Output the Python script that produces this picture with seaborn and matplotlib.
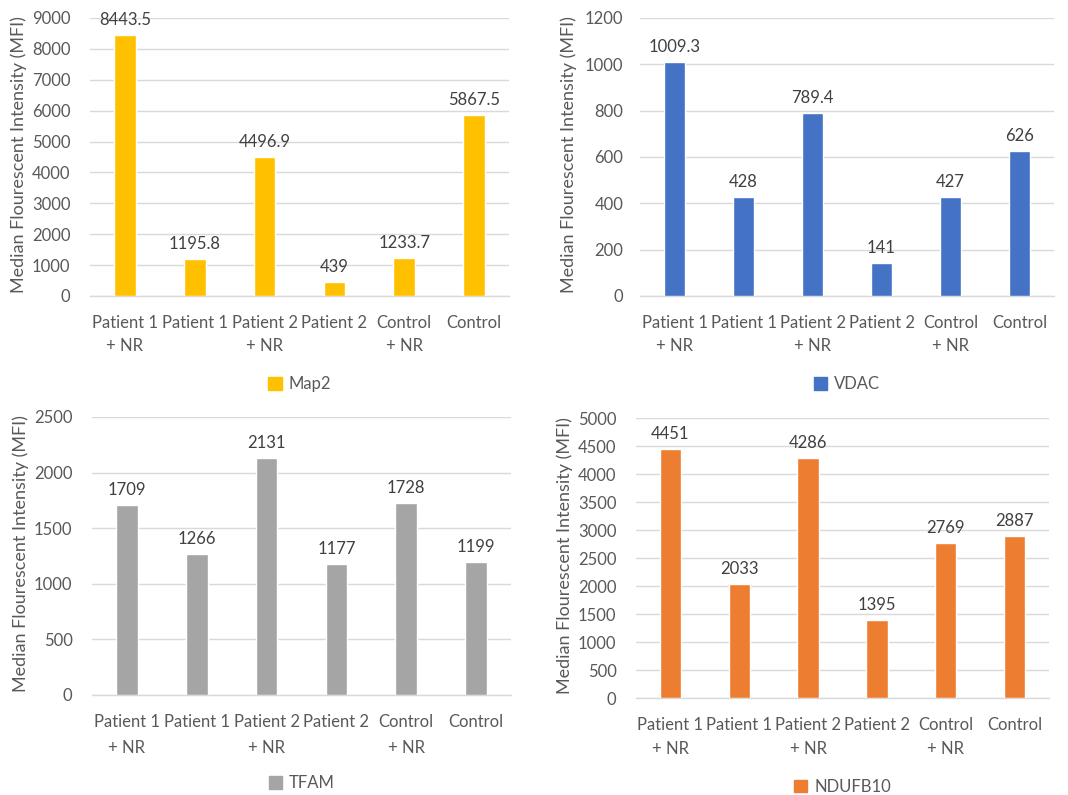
import matplotlib
matplotlib.use("Agg")
import matplotlib.pyplot as plt
import seaborn as sns
from matplotlib.patches import Patch

sns.set_theme(style="white")
plt.rcParams["font.family"] = ["Lato", "DejaVu Sans"]

categories = ["Patient 1\n+ NR", "Patient 1", "Patient 2\n+ NR", "Patient 2", "Control\n+ NR", "Control"]

map2_values = [8443.5, 1195.8, 4496.9, 439, 1233.7, 5867.5]
vdac_values = [1009.3, 428, 789.4, 141, 427, 626]
tfam_values = [1709, 1266, 2131, 1177, 1728, 1199]
ndufb10_values = [4451, 2033, 4286, 1395, 2769, 2887]

map2_labels = ["8443.5", "1195.8", "4496.9", "439", "1233.7", "5867.5"]
vdac_labels = ["1009.3", "428", "789.4", "141", "427", "626"]
tfam_labels = ["1709", "1266", "2131", "1177", "1728", "1199"]
ndufb10_labels = ["4451", "2033", "4286", "1395", "2769", "2887"]

TEXT = "#595959"
GRID = "#D9D9D9"
YLABEL = "Median Flourescent Intensity (MFI)"
FIG_W, FIG_H = 1068, 795

panels = [
    # name, values, labels, colour, ymax, step, axes rect, y tick pad, x label line spacing
    ("Map2", map2_values, map2_labels, "#FFC000", 9000, 1000, [0.0843, 0.6277, 0.3923, 0.3497], 14, 1.5),
    ("VDAC", vdac_values, vdac_labels, "#4472C4", 1200, 200, [0.5993, 0.6277, 0.3876, 0.3497], 12, 1.5),
    ("TFAM", tfam_values, tfam_labels, "#A5A5A5", 2500, 500, [0.0861, 0.1258, 0.3923, 0.3497], 14, 1.75),
    ("NDUFB10", ndufb10_values, ndufb10_labels, "#ED7D31", 5000, 500, [0.5955, 0.1220, 0.3867, 0.3522], 14, 1.55),
]

fig = plt.figure(figsize=(FIG_W / 100, FIG_H / 100), dpi=100)

for name, values, labels, colour, ymax, step, rect, ypad, lsp in panels:
    ax = fig.add_axes(rect)
    sns.barplot(x=categories, y=values, color=colour, width=0.31,
                saturation=1, ax=ax, zorder=3)
    ax.bar_label(ax.containers[0], labels=labels, padding=5,
                 fontsize=12, color="#404040")
    ax.set_ylim(0, ymax)
    ax.set_yticks(range(0, ymax + 1, step))
    ax.set_xlim(-0.5, len(categories) - 0.5)
    ax.grid(axis="y", color=GRID, linewidth=1, zorder=0)
    for side in ["top", "right", "left"]:
        ax.spines[side].set_visible(False)
    ax.spines["bottom"].set_color(GRID)
    ax.spines["bottom"].set_linewidth(1)
    ax.tick_params(axis="both", length=0, colors=TEXT, labelsize=12)
    ax.tick_params(axis="x", pad=14)
    ax.tick_params(axis="y", pad=ypad)
    ax.set_ylabel(YLABEL, fontsize=13, color=TEXT, va="center")
    ax.yaxis.set_label_coords(-71 / (rect[2] * FIG_W), 0.51)
    for t in ax.get_xticklabels():
        t.set_linespacing(lsp)
    ax.legend(handles=[Patch(color=colour, label=name)],
              loc="center", bbox_to_anchor=(0.5, -0.317), frameon=False,
              fontsize=12, labelcolor=TEXT, handlelength=0.8,
              handleheight=0.8, handletextpad=0.4)

fig.savefig("out.png", dpi=100, facecolor="white")
